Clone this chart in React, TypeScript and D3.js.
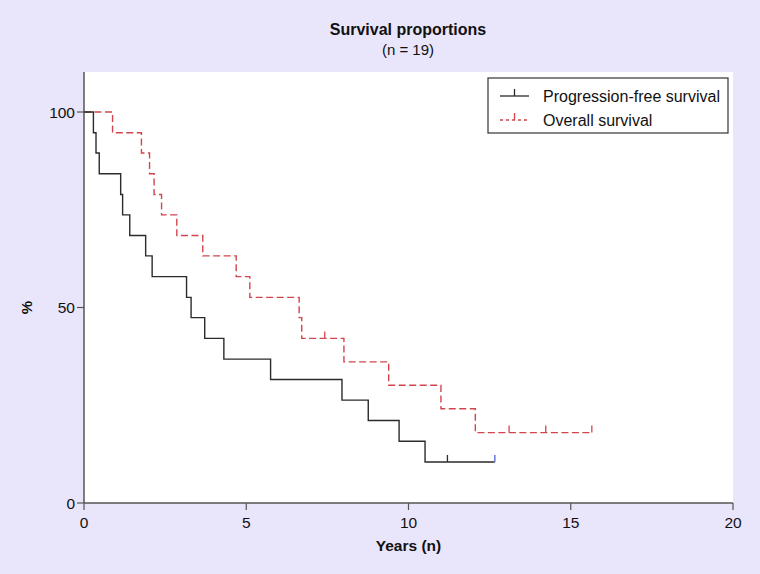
import * as d3 from "d3";

// Kaplan-Meier steps (years, % surviving)
const pfsTimes = [0, 0.29, 0.37, 0.47, 1.13, 1.19, 1.41, 1.9, 2.1, 3.16, 3.3, 3.72, 4.31, 5.75, 7.95, 8.76, 9.71, 10.51];
const pfsSurv = [100, 94.7, 89.5, 84.2, 78.9, 73.7, 68.4, 63.2, 57.9, 52.6, 47.4, 42.1, 36.8, 31.6, 26.3, 21.1, 15.8, 10.5];
const pfsEnd = 12.66;
const pfsCensored = [11.2];

const osTimes = [0, 0.88, 1.77, 2.02, 2.16, 2.39, 2.86, 3.66, 4.69, 5.11, 6.63, 6.71, 8.01, 9.39, 11.0, 12.06];
const osSurv = [100, 94.7, 89.5, 84.2, 78.9, 73.7, 68.4, 63.2, 57.9, 52.6, 47.4, 42.1, 36.1, 30.1, 24.1, 18.0];
const osEnd = 15.65;
const osCensored = [7.42, 13.1, 14.23, 15.65];

const xTicks = [0, 5, 10, 15, 20];
const yTicks = [0, 50, 100];

const seriesNames = ["Progression-free survival", "Overall survival"];

const W = 760;
const H = 574;
const FONT = "'Liberation Sans', Arial, Helvetica, sans-serif";

export default function App() {
  const x = d3.scaleLinear().domain([0, 20]).range([84, 733]);
  const y = d3.scaleLinear().domain([0, 100]).range([503, 112]);

  const stepPath = (times: number[], surv: number[], end: number) => {
    const pts: [number, number][] = times.map((t, i) => [t, surv[i]]);
    pts.push([end, surv[surv.length - 1]]);
    return d3
      .line<[number, number]>()
      .x((d) => x(d[0]))
      .y((d) => y(d[1]))
      .curve(d3.curveStepAfter)(pts) as string;
  };

  const survAt = (times: number[], surv: number[], t: number) => {
    let v = surv[0];
    times.forEach((tt, i) => {
      if (tt <= t) v = surv[i];
    });
    return v;
  };

  const black = "#2b2b2b";
  const red = "#d2454d";
  const tickLen = 7;

  return (
    <svg width={W} height={H} style={{ display: "block", position: "absolute", left: 0, top: 0 }} fontFamily={FONT}>
      <rect x={0} y={0} width={W} height={H} fill="#e9e5fb" />
      <rect x={x(0)} y={72} width={x(20) - x(0)} height={y(0) - 72} fill="#ffffff" />

      {/* title */}
      <text x={408} y={35} textAnchor="middle" fontSize={16} fontWeight="bold" fill="#111">
        Survival proportions
      </text>
      <text x={408} y={55} textAnchor="middle" fontSize={15} fill="#111">
        (n = 19)
      </text>

      {/* axes */}
      <line x1={x(0)} x2={x(0)} y1={72} y2={y(0)} stroke="#555" strokeWidth={1.5} />
      <line x1={x(0)} x2={x(20)} y1={y(0)} y2={y(0)} stroke="#555" strokeWidth={1.5} />
      {yTicks.map((t) => (
        <g key={"y" + t}>
          <line x1={x(0) - 7} x2={x(0)} y1={y(t)} y2={y(t)} stroke="#555" strokeWidth={1.2} />
          <text x={x(0) - 9} y={y(t) + 5.5} textAnchor="end" fontSize={15.5} fill="#111">
            {t}
          </text>
        </g>
      ))}
      {xTicks.map((t) => (
        <g key={"x" + t}>
          <line x1={x(t)} x2={x(t)} y1={y(0)} y2={y(0) + 7} stroke="#555" strokeWidth={1.2} />
          <text x={x(t)} y={y(0) + 25} textAnchor="middle" fontSize={15.5} fill="#111">
            {t}
          </text>
        </g>
      ))}
      <text x={(x(0) + x(20)) / 2} y={551} textAnchor="middle" fontSize={15.5} fontWeight="bold" fill="#111">
        Years (n)
      </text>
      <text
        transform={`translate(${32},${y(50)}) rotate(-90)`}
        textAnchor="middle"
        fontSize={15}
        fontWeight="bold"
        fill="#111"
      >
        %
      </text>

      {/* OS */}
      <path d={stepPath(osTimes, osSurv, osEnd)} fill="none" stroke={red} strokeWidth={1.4} strokeDasharray="7,3.5" />
      {osCensored.map((t) => (
        <line
          key={"oc" + t}
          x1={x(t)}
          x2={x(t)}
          y1={y(survAt(osTimes, osSurv, t))}
          y2={y(survAt(osTimes, osSurv, t)) - tickLen}
          stroke={red}
          strokeWidth={1.3}
        />
      ))}

      {/* PFS */}
      <path d={stepPath(pfsTimes, pfsSurv, pfsEnd)} fill="none" stroke={black} strokeWidth={1.4} />
      {pfsCensored.map((t) => (
        <line
          key={"pc" + t}
          x1={x(t)}
          x2={x(t)}
          y1={y(survAt(pfsTimes, pfsSurv, t))}
          y2={y(survAt(pfsTimes, pfsSurv, t)) - tickLen}
          stroke={black}
          strokeWidth={1.3}
        />
      ))}
      <line
        x1={x(pfsEnd)}
        x2={x(pfsEnd)}
        y1={y(survAt(pfsTimes, pfsSurv, pfsEnd))}
        y2={y(survAt(pfsTimes, pfsSurv, pfsEnd)) - tickLen}
        stroke="#6f80d6"
        strokeWidth={1.6}
      />

      {/* legend */}
      <rect x={488} y={78} width={240} height={55} fill="#fff" stroke="#333" strokeWidth={1.2} />
      <line x1={500} x2={529} y1={96} y2={96} stroke={black} strokeWidth={1.3} />
      <line x1={514.5} x2={514.5} y1={96} y2={89} stroke={black} strokeWidth={1.3} />
      <text x={543} y={101.5} fontSize={16} fill="#111">
        {seriesNames[0]}
      </text>
      <line x1={500} x2={529} y1={120} y2={120} stroke={red} strokeWidth={1.3} strokeDasharray="3,3" />
      <line x1={514.5} x2={514.5} y1={120} y2={113} stroke={red} strokeWidth={1.3} />
      <text x={543} y={125.5} fontSize={16} fill="#111">
        {seriesNames[1]}
      </text>
    </svg>
  );
}
